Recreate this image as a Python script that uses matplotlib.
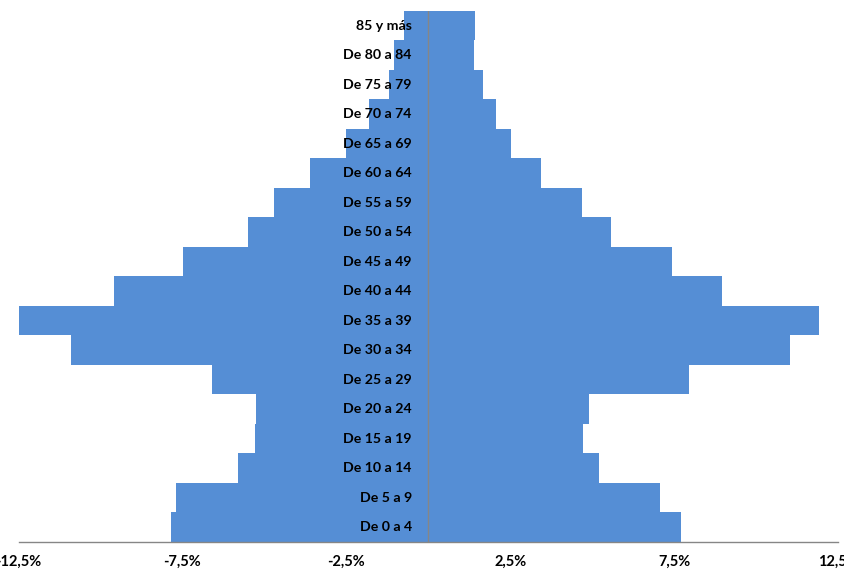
import matplotlib
matplotlib.use("Agg")
import matplotlib.pyplot as plt
from matplotlib.ticker import FuncFormatter

categories = ["De 0 a 4", "De 5 a 9", "De 10 a 14", "De 15 a 19", "De 20 a 24",
              "De 25 a 29", "De 30 a 34", "De 35 a 39", "De 40 a 44", "De 45 a 49",
              "De 50 a 54", "De 55 a 59", "De 60 a 64", "De 65 a 69", "De 70 a 74",
              "De 75 a 79", "De 80 a 84", "85 y más"]
left_values = [-7.84, -7.69, -5.81, -5.29, -5.26, -6.60, -10.90, -12.60, -9.59, -7.49,
               -5.49, -4.71, -3.61, -2.51, -1.80, -1.19, -1.06, -0.73]
right_values = [7.71, 7.08, 5.20, 4.73, 4.90, 7.95, 11.04, 11.92, 8.97, 7.44,
                5.57, 4.68, 3.45, 2.52, 2.08, 1.66, 1.39, 1.43]
xticks = [-12.5, -7.5, -2.5, 2.5, 7.5, 12.5]

color = "#558ED5"
fig = plt.figure(figsize=(8.45, 5.69), dpi=100)
ax = fig.add_axes([0.0219, 0.0475, 0.9698, 0.9332])

y = list(range(len(categories)))
ax.barh(y, left_values, height=1.0, color=color, linewidth=0)
ax.barh(y, right_values, height=1.0, color=color, linewidth=0)

ax.set_xlim(-12.5, 12.5)
ax.set_ylim(-0.5, len(categories) - 0.5)
ax.axvline(0, color="#868686", linewidth=1.0)

for i, lab in enumerate(categories):
    ax.text(-0.5, i, lab, ha="right", va="center", fontsize=10.2,
            fontweight="bold", family="Lato", color="black")

ax.set_xticks(xticks)
ax.xaxis.set_major_formatter(FuncFormatter(lambda v, p: f"{v:.1f}".replace(".", ",") + "%"))
for t in ax.get_xticklabels():
    t.set_fontweight("bold")
    t.set_family("Lato")
    t.set_fontsize(10.5)
ax.tick_params(axis="x", length=0, pad=9)
ax.set_yticks([])
for s in ["top", "right", "left"]:
    ax.spines[s].set_visible(False)
ax.spines["bottom"].set_color("#868686")
ax.spines["bottom"].set_linewidth(1.0)

fig.savefig("out.png", dpi=100)
